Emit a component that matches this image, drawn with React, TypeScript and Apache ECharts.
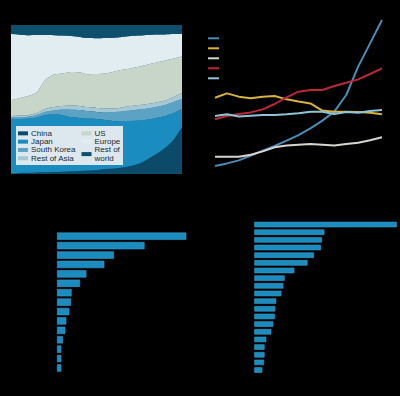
import React, { useEffect, useRef } from 'react';
import * as echarts from 'echarts';

// ---------- Top-left: 100% stacked shares ----------
const shareYears = ['2000','2001','2002','2003','2004','2005','2006','2007','2008','2009','2010','2011','2012','2013','2014','2015','2016','2017','2018','2019','2020'];
const chinaShare = [0.3, 0.7, 0.8, 1.0, 1.1, 1.3, 1.5, 1.8, 2.0, 2.3, 2.7, 3.4, 3.7, 4.4, 5.4, 7.0, 10.1, 13.4, 17.4, 22.8, 31.5];
const japanShare = [36.6, 36.2, 36.4, 36.9, 38.5, 38.6, 38.1, 36.4, 35.6, 34.9, 34.2, 32.9, 31.9, 30.9, 30.2, 28.9, 26.5, 24.2, 21.5, 18.1, 12.1];
const koreaShare = [1.3, 1.3, 1.3, 1.7, 2.0, 2.7, 3.7, 5.0, 5.4, 5.0, 4.7, 5.0, 6.0, 6.7, 7.0, 7.4, 7.4, 7.4, 7.4, 7.4, 6.7];
const restAsiaShare = [0.7, 1.0, 1.0, 1.3, 2.0, 2.3, 2.3, 2.7, 2.7, 2.7, 2.7, 2.7, 2.3, 2.7, 3.0, 3.0, 3.0, 3.0, 3.0, 3.4, 4.0];
const usShare = [10.7, 11.7, 12.8, 13.8, 19.5, 21.8, 21.8, 22.5, 22.5, 22.1, 22.8, 23.5, 24.8, 25.2, 25.2, 25.8, 26.5, 26.8, 26.8, 25.8, 24.8];
const europeShare = [44.3, 42.6, 40.9, 38.6, 30.2, 26.5, 25.5, 24.2, 23.8, 24.2, 24.0, 23.8, 22.8, 22.1, 21.8, 20.8, 19.8, 18.8, 17.6, 16.4, 14.8];
const restWorldShare = [6.1, 6.5, 6.8, 6.7, 6.7, 6.8, 7.1, 7.4, 8.0, 8.8, 8.9, 8.7, 8.5, 8.0, 7.4, 7.1, 6.8, 6.4, 6.3, 6.1, 6.1];

// ---------- Top-right: lines ----------
const lineYears = ['2008','2009','2010','2011','2012','2013','2014','2015','2016','2017','2018','2019','2020','2021','2022'];
const lineA = [2.7, 4.4, 6.4, 9.6, 12.9, 16.0, 19.6, 23.3, 27.8, 32.9, 38.9, 50.0, 68.9, 84.4, 100.0];
const lineB = [48.2, 51.1, 48.9, 47.8, 48.9, 49.3, 47.1, 45.6, 44.4, 39.6, 38.9, 38.9, 38.7, 38.2, 37.1];
const lineC = [8.9, 8.9, 8.9, 10.2, 12.4, 15.1, 16.4, 16.9, 17.3, 16.9, 16.4, 17.3, 18.2, 19.8, 21.8];
const lineD = [33.8, 36.0, 37.3, 38.4, 40.4, 44.0, 48.4, 52.2, 53.3, 53.3, 56.0, 58.2, 60.4, 64.0, 67.8];
const lineE = [36.0, 37.1, 35.6, 36.2, 36.7, 36.7, 37.1, 37.8, 38.9, 38.9, 37.3, 38.7, 38.2, 39.3, 40.0];

// ---------- Bottom-left bars ----------
const leftCats = ['1','2','3','4','5','6','7','8','9','10','11','12','13','14','15'];
const leftValues = [100, 67.7, 44, 36.6, 22.7, 17.8, 11.3, 10.8, 9.5, 7.2, 6.4, 4.6, 3.3, 3.3, 3.3];

// ---------- Bottom-right bars ----------
const rightCats = ['1','2','3','4','5','6','7','8','9','10','11','12','13','14','15','16','17','18','19','20'];
const rightValues = [100, 49.2, 47.5, 46.8, 41.9, 37.4, 28.1, 21.3, 20.4, 19, 15.4, 14.7, 14.5, 13.3, 11.9, 8.4, 7.2, 7.2, 6.8, 5.6];

const areaColors: Record<string, string> = {
  'China': '#0c4a69',
  'Japan': '#1b8cbf',
  'South Korea': '#5ba2c4',
  'Rest of Asia': '#a6c7d4',
  'US': '#c8d6ca',
  'Europe': '#e2edf1',
  'Rest of world': '#0d4f6d',
};

export default function App() {
  const ref = useRef<HTMLDivElement>(null);
  useEffect(() => {
    document.body.style.margin = '0';
    document.body.style.background = '#000';
    const chart = echarts.init(ref.current!, undefined, { renderer: 'svg' });

    const areaSeries = [
      ['China', chinaShare],
      ['Japan', japanShare],
      ['South Korea', koreaShare],
      ['Rest of Asia', restAsiaShare],
      ['US', usShare],
      ['Europe', europeShare],
      ['Rest of world', restWorldShare],
    ].map(([name, data]) => ({
      name: name as string,
      type: 'line',
      stack: 'share',
      xAxisIndex: 0,
      yAxisIndex: 0,
      data: data as number[],
      symbol: 'none',
      smooth: 0.2,
      lineStyle: { width: 0 },
      areaStyle: { color: areaColors[name as string], opacity: 1 },
      itemStyle: { color: areaColors[name as string] },
      z: 2,
    }));

    const lineDefs: [string, number[], string][] = [
      ['A', lineA, '#4a8db6'],
      ['B', lineB, '#d9b13b'],
      ['C', lineC, '#d6d6cf'],
      ['D', lineD, '#b92a36'],
      ['E', lineE, '#8ec3d8'],
    ];
    const lineSeries = lineDefs.map(([name, data, color]) => ({
      name,
      type: 'line',
      xAxisIndex: 1,
      yAxisIndex: 1,
      data,
      symbol: 'none',
      lineStyle: { width: 2, color },
      itemStyle: { color },
    }));

    const hiddenAxis = {
      axisLine: { show: false },
      axisTick: { show: false },
      axisLabel: { show: false },
      splitLine: { show: false },
    };

    const option: any = {
      animation: false,
      backgroundColor: '#000',
      textStyle: { fontFamily: 'Liberation Sans, Arial, sans-serif' },
      grid: [
        { left: 11, top: 25, width: 171, height: 149, show: true, backgroundColor: '#0d4f6d', borderWidth: 0 },
        { left: 215, top: 20, width: 167, height: 150 },
        { left: 57, top: 231.5, width: 129.3, height: 141.2 },
        { left: 254.3, top: 220.7, width: 142.4, height: 153.2 },
      ],
      xAxis: [
        { type: 'category', gridIndex: 0, data: shareYears, boundaryGap: false, ...hiddenAxis },
        { type: 'category', gridIndex: 1, data: lineYears, boundaryGap: false, ...hiddenAxis },
        { type: 'value', gridIndex: 2, min: 0, max: 100, ...hiddenAxis },
        { type: 'value', gridIndex: 3, min: 0, max: 100, ...hiddenAxis },
      ],
      yAxis: [
        { type: 'value', gridIndex: 0, min: 0, max: 100, ...hiddenAxis },
        { type: 'value', gridIndex: 1, min: 0, max: 100, ...hiddenAxis },
        { type: 'category', gridIndex: 2, data: leftCats, inverse: true, ...hiddenAxis },
        { type: 'category', gridIndex: 3, data: rightCats, inverse: true, ...hiddenAxis },
      ],
      legend: [
        {
          data: ['China', 'Japan', 'South Korea', 'Rest of Asia'],
          orient: 'vertical', left: 18, top: 129.2, padding: 0, itemGap: 0,
          itemWidth: 10, itemHeight: 4, icon: 'rect', itemStyle: { borderWidth: 0 },
          textStyle: { fontSize: 8, lineHeight: 8.3, color: '#172833', padding: [0, 0, 0, -2] },
          z: 10,
        },
        {
          data: ['US', 'Europe', 'Rest of world'],
          orient: 'vertical', left: 81.5, top: 129.2, padding: 0, itemGap: 0,
          itemWidth: 10, itemHeight: 4, icon: 'rect', itemStyle: { borderWidth: 0 },
          formatter: (n: string) => (n === 'Rest of world' ? 'Rest of\nworld' : n),
          textStyle: { fontSize: 8, lineHeight: 8.3, color: '#172833', padding: [0, 0, 0, -2] },
          z: 10,
        },
        {
          data: ['A', 'B', 'C', 'D', 'E'],
          orient: 'vertical', left: 208, top: 33.3, padding: 0, itemGap: 0,
          itemWidth: 11, itemHeight: 2, icon: 'rect',
          formatter: () => ' ',
          textStyle: { fontSize: 8, lineHeight: 10, color: '#000' },
        },
      ],
      graphic: [
        {
          type: 'rect', z: 5,
          shape: { x: 16, y: 126, width: 107, height: 39 },
          style: { fill: '#dce8ed' },
        },
      ],
      series: [
        ...areaSeries,
        ...lineSeries,
        {
          type: 'bar', xAxisIndex: 2, yAxisIndex: 2, data: leftValues,
          barCategoryGap: '22%',
          itemStyle: { color: '#1b8cbf', borderColor: '#3a9ccb', borderWidth: 0.6 },
        },
        {
          type: 'bar', xAxisIndex: 3, yAxisIndex: 3, data: rightValues,
          barCategoryGap: '28%',
          itemStyle: { color: '#1b8cbf', borderColor: '#3a9ccb', borderWidth: 0.6 },
        },
      ],
    };
    chart.setOption(option);
    return () => chart.dispose();
  }, []);
  return <div ref={ref} style={{ width: 400, height: 396 }} />;
}
